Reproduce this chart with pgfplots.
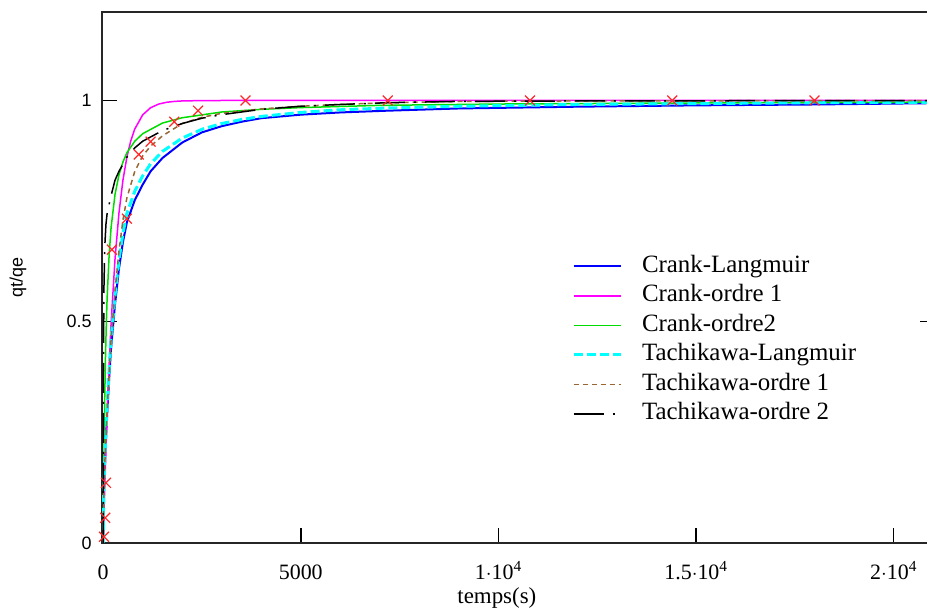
\documentclass[border=0pt]{standalone}
\usepackage{pgfplots}
\pgfplotsset{compat=1.18}
\usepackage{fontspec}
\setmainfont{Liberation Serif}
\newfontfamily\sansf{Liberation Sans}
\definecolor{cBlue}{RGB}{0,0,255}
\definecolor{cMag}{RGB}{255,0,255}
\definecolor{cGreen}{RGB}{0,220,0}
\definecolor{cCyan}{RGB}{0,255,255}
\definecolor{cBrown}{RGB}{153,102,51}
\definecolor{cRed}{RGB}{255,40,40}
\begin{document}
\begin{tikzpicture}
\begin{axis}[
  at={(102bp,65bp)}, anchor=south west,
  scale only axis, width=833bp, height=531bp,
  xmin=-30, xmax=21048, ymin=0, ymax=1.2,
  axis line style={line width=2bp, black!85},
  tick align=inside, xtick pos=bottom, ytick pos=both,
  major tick length=15bp,
  tick style={line width=1.5bp, black},
  xtick={0,5000,10000,15000,20000},
  xticklabels={0,5000,{1$\cdot$10\textsuperscript{4}},{1.5$\cdot$10\textsuperscript{4}},{2$\cdot$10\textsuperscript{4}}},
  scaled x ticks=false,
  ytick={0,0.5,1}, yticklabels={0,0.5,1},
  xticklabel style={font=\fontsize{22}{26}\selectfont, anchor=base, inner sep=1bp, yshift=-36bp},
  yticklabel style={font=\sansf\fontsize{18}{21}\selectfont, xshift=-7bp},
  xlabel={temps(s)},
  xlabel style={font=\fontsize{23}{27}\selectfont, at={(axis description cs:0.474,0)}, anchor=base, inner sep=1bp, yshift=-60bp},
  ylabel={qt/qe},
  ylabel style={font=\sansf\fontsize{18}{21}\selectfont, at={(axis description cs:-0.1008,0.5)}, anchor=center},
  legend style={draw=none, fill=none, at={(axis description cs:0.564,0.549)}, anchor=north west,
    inner sep=0pt, font=\fontsize{25}{29}\selectfont, row sep=0pt,
    nodes={inner sep=3bp, text height=17.5bp, text depth=6bp},
    /tikz/every odd column/.append style={column sep=17bp}},
  legend cell align=left,
  legend image code/.code={\draw[#1] (0bp,0bp) -- (47bp,0bp);},
]
% Crank-Langmuir
\addplot[cBlue, line width=2bp] coordinates {
(0,0) (10,0.09) (25,0.14) (50,0.2) (100,0.29) (150,0.37) (200,0.44) (300,0.54) (400,0.62) (500,0.68) (600,0.725) (800,0.775) (1000,0.81) (1200,0.84) (1500,0.87) (2000,0.905) (2500,0.928) (3000,0.942) (3500,0.952) (4000,0.96) (5000,0.968) (6000,0.973) (7200,0.977) (9000,0.982) (12000,0.986) (15000,0.989) (18000,0.991) (21048,0.994)};
\addlegendentry{Crank-Langmuir}
% Crank-ordre 1
\addplot[cMag, line width=1.5bp] coordinates {
(0,0) (25,0.0822) (50,0.1576) (100,0.2904) (150,0.4022) (200,0.4964) (300,0.6426) (400,0.7464) (500,0.8201) (600,0.8723) (700,0.9094) (800,0.9357) (1000,0.9676) (1200,0.9837) (1400,0.9918) (1600,0.9959) (1800,0.9979) (2000,0.999) (2500,0.9998) (3000,1.0) (21048,1.0)};
\addlegendentry{Crank-ordre 1}
% Crank-ordre2
\addplot[cGreen, line width=1.5bp] coordinates {
(0,0) (20,0.199) (40,0.332) (60,0.427) (80,0.498) (100,0.554) (150,0.650) (200,0.713) (300,0.788) (400,0.832) (500,0.861) (600,0.882) (800,0.908) (1000,0.925) (1500,0.949) (2000,0.961) (3000,0.974) (4000,0.980) (5000,0.984) (7000,0.989) (10000,0.992) (14000,0.994) (18000,0.9955) (21048,0.9962)};
\addlegendentry{Crank-ordre2}
% Tachikawa-Langmuir
\addplot[cCyan, line width=3bp, dash pattern=on 9bp off 4bp] coordinates {
(0,0) (10,0.1) (25,0.15) (50,0.21) (100,0.31) (150,0.39) (200,0.46) (300,0.56) (400,0.64) (500,0.70) (600,0.745) (800,0.795) (1000,0.83) (1200,0.857) (1500,0.885) (2000,0.915) (2500,0.935) (3000,0.948) (3500,0.957) (4000,0.964) (5000,0.973) (6000,0.979) (7200,0.983) (9000,0.987) (12000,0.991) (15000,0.993) (18000,0.995) (21048,0.996)};
\addlegendentry{Tachikawa-Langmuir}
% Tachikawa-ordre 1
\addplot[cBrown, line width=1.5bp, dash pattern=on 5bp off 4bp] coordinates {
(0,0) (10,0.08) (25,0.14) (50,0.2) (100,0.3) (150,0.38) (200,0.46) (300,0.57) (400,0.66) (500,0.73) (600,0.78) (800,0.84) (1000,0.875) (1200,0.897) (1500,0.92) (2000,0.948) (2500,0.962) (3000,0.971) (4000,0.981) (5000,0.987) (6000,0.991) (7200,0.995) (9000,0.998) (12000,0.999) (21048,1.0)};
\addlegendentry{Tachikawa-ordre 1}
% Tachikawa-ordre 2
\addplot[black, line width=1.5bp, dash pattern=on 30bp off 9bp on 2bp off 9bp] coordinates {
(0,0) (2,0.15) (5,0.3) (10,0.45) (20,0.58) (40,0.67) (70,0.72) (100,0.745) (150,0.765) (200,0.785) (300,0.82) (400,0.84) (600,0.872) (800,0.893) (1000,0.908) (1500,0.932) (2000,0.948) (2500,0.96) (3000,0.968) (4000,0.98) (5000,0.987) (6000,0.991) (7200,0.995) (9000,0.998) (12000,0.999) (21048,1.0)};
\addlegendentry{Tachikawa-ordre 2}
% experimental points
\addplot[only marks, mark=x, mark size=7bp, cRed, mark options={line width=1.2bp}, forget plot] coordinates {
(20,0.014) (50,0.057) (70,0.136) (220,0.663) (600,0.733) (900,0.878) (1200,0.907) (1800,0.952) (2400,0.977) (3600,1.0) (7200,1.0) (10800,1.0) (14400,1.0) (18000,1.0)};
\end{axis}
\pgfresetboundingbox
\path[use as bounding box] (0,0) rectangle (927bp,608bp);
\end{tikzpicture}
\end{document}
